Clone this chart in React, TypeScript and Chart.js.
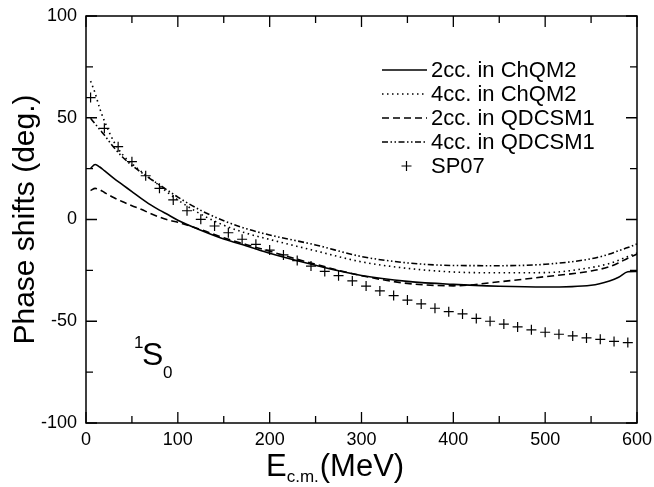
import React, { useEffect, useRef } from "react";
import { Chart, registerables } from "chart.js";

Chart.register(...registerables);

const energies = [5, 10, 15, 20, 30, 40, 50, 60, 70, 80, 90, 100, 125, 150, 175, 200, 250, 300, 350, 400, 450, 500, 550, 570, 580, 590, 600];
const cc2ChQM2 = [25.2, 27, 25.8, 24, 20.3, 17, 13.7, 10.4, 7.3, 4.6, 2.2, -0.4, -5.3, -9.6, -13, -16.6, -22.5, -27.5, -30.4, -31.9, -32.8, -33.2, -32.3, -30.2, -28.4, -25.7, -25.5];
const cc4ChQM2 = [68, 62, 54.5, 48.5, 38.5, 31.8, 27.4, 23.6, 20.2, 16.6, 12.9, 9.6, 2.6, -2.8, -6.8, -9.8, -15.4, -20.8, -24, -25.8, -26.2, -26.1, -23.6, -21.6, -20, -18.2, -16.5];
const cc2QDCSM1 = [14.2, 15.3, 14.6, 13.3, 10.8, 8.7, 6.8, 5, 3, 1.2, -0.3, -1.4, -5, -9, -12.4, -15.6, -22, -27.6, -31.4, -32.6, -30.6, -28.1, -25.3, -23.2, -21.3, -19, -17];
const cc4QDCSM1 = [49.7, 47, 44.2, 41.5, 35.6, 30.6, 26.6, 23.2, 20, 17, 14, 11, 4.5, -0.6, -4.6, -7.6, -12.5, -18.2, -21.3, -22.6, -22.7, -22, -19.3, -17, -15.3, -13.8, -12];

const sp07Energies = [5, 20, 35, 50, 65, 80, 95, 110, 125, 140, 155, 170, 185, 200, 215, 230, 245, 260, 275, 290, 305, 320, 335, 350, 365, 380, 395, 410, 425, 440, 455, 470, 485, 500, 515, 530, 545, 560, 575, 590];
const sp07Values = [59.9, 44.8, 35.8, 28.4, 21.5, 15.3, 9.6, 4.3, 0.1, -3.2, -6.5, -9.7, -12.2, -15.0, -17.4, -20.2, -22.9, -25.5, -27.6, -30.2, -32.7, -35.1, -37.4, -39.6, -41.5, -43.6, -45.3, -46.4, -48.6, -50.0, -51.4, -52.8, -54.2, -55.4, -56.4, -57.2, -58.2, -58.9, -59.9, -60.5];

const seriesLabels = ["2cc. in ChQM2", "4cc. in ChQM2", "2cc. in QDCSM1", "4cc. in QDCSM1", "SP07"];
const xTicks = [0, 100, 200, 300, 400, 500, 600];
const yTicks = [-100, -50, 0, 50, 100];

const FONT = '"Liberation Sans", Arial, sans-serif';
const dashes: number[][] = [[], [1.5, 3.5], [7, 4], [6, 2.5, 1.5, 2.5, 1.5, 2.5]];

const toXY = (xs: number[], ys: number[]) => xs.map((x, i) => ({ x, y: ys[i] }));

const decorPlugin = {
  id: "decor",
  afterDraw(chart: any) {
    const ctx = chart.ctx;
    const { left, right, top, bottom } = chart.chartArea;
    const xs = chart.scales.x;
    const ys = chart.scales.y;
    ctx.save();
    ctx.strokeStyle = "#000";
    ctx.fillStyle = "#000";
    ctx.lineWidth = 1.5;
    ctx.setLineDash([]);
    ctx.strokeRect(left, top, right - left, bottom - top);
    ctx.lineWidth = 1.3;
    for (let v = 0; v <= 600; v += 50) {
      const px = xs.getPixelForValue(v);
      const len = v % 100 === 0 ? 11 : 7;
      ctx.beginPath();
      ctx.moveTo(px, bottom);
      ctx.lineTo(px, bottom - len);
      ctx.moveTo(px, top);
      ctx.lineTo(px, top + len);
      ctx.stroke();
    }
    for (let v = -100; v <= 100; v += 25) {
      const py = ys.getPixelForValue(v);
      const len = v % 50 === 0 ? 11 : 7;
      ctx.beginPath();
      ctx.moveTo(left, py);
      ctx.lineTo(left + len, py);
      ctx.moveTo(right, py);
      ctx.lineTo(right - len, py);
      ctx.stroke();
    }
    // legend
    const rows = [70, 94, 118, 142, 166];
    ctx.font = `22px ${FONT}`;
    ctx.textBaseline = "middle";
    ctx.textAlign = "left";
    for (let i = 0; i < 4; i++) {
      ctx.lineWidth = 1.6;
      ctx.setLineDash(dashes[i]);
      ctx.beginPath();
      ctx.moveTo(382, rows[i]);
      ctx.lineTo(427, rows[i]);
      ctx.stroke();
      ctx.setLineDash([]);
      ctx.fillText(seriesLabels[i], 431, rows[i] + 1);
    }
    ctx.lineWidth = 1.2;
    ctx.beginPath();
    ctx.moveTo(401.5, rows[4]);
    ctx.lineTo(411.5, rows[4]);
    ctx.moveTo(406.5, rows[4] - 5);
    ctx.lineTo(406.5, rows[4] + 5);
    ctx.stroke();
    ctx.fillText(seriesLabels[4], 431, rows[4] + 1);
    // 1S0
    ctx.textBaseline = "alphabetic";
    ctx.font = `17px ${FONT}`;
    ctx.fillText("1", 134, 348);
    ctx.font = `32px ${FONT}`;
    ctx.fillText("S", 142, 365);
    ctx.font = `17px ${FONT}`;
    ctx.fillText("0", 163, 378);
    // x title
    const big = `31px ${FONT}`;
    const small = `17px ${FONT}`;
    ctx.font = big;
    const wE = ctx.measureText("E").width;
    ctx.font = small;
    const wS = ctx.measureText("c.m.").width;
    const x0 = 266;
    const base = 476;
    ctx.font = big;
    ctx.fillText("E", x0, base);
    ctx.font = small;
    ctx.fillText("c.m.", x0 + wE, base + 6);
    ctx.font = big;
    ctx.fillText("(MeV)", x0 + wE + wS + 1, base);
    // y title
    ctx.translate(34, (top + bottom) / 2);
    ctx.rotate(-Math.PI / 2);
    ctx.textAlign = "center";
    ctx.font = `30px ${FONT}`;
    ctx.fillText("Phase shifts (deg.)", 0, 0);
    ctx.restore();
  },
};

export default function App() {
  const ref = useRef<HTMLCanvasElement | null>(null);
  useEffect(() => {
    if (!ref.current) return;
    const lineSets = [cc2ChQM2, cc4ChQM2, cc2QDCSM1, cc4QDCSM1].map((vals, i) => ({
      type: "line" as const,
      label: seriesLabels[i],
      data: toXY(energies, vals),
      borderColor: "#000",
      borderWidth: 1.6,
      borderDash: dashes[i],
      pointRadius: 0,
      fill: false,
      cubicInterpolationMode: "monotone" as const,
    }));
    const chart = new Chart(ref.current, {
      type: "line",
      data: {
        datasets: [
          ...lineSets,
          {
            type: "scatter" as const,
            label: seriesLabels[4],
            data: toXY(sp07Energies, sp07Values),
            pointStyle: "cross",
            pointRadius: 5,
            borderColor: "#000",
            backgroundColor: "#000",
            pointBorderWidth: 1.2,
            showLine: false,
          } as any,
        ],
      },
      options: {
        animation: false,
        responsive: false,
        maintainAspectRatio: false,
        devicePixelRatio: 1,
        layout: { padding: { top: 16, right: 17, left: 0, bottom: 0 } },
        plugins: { legend: { display: false }, tooltip: { enabled: false }, title: { display: false } },
        scales: {
          x: {
            type: "linear",
            min: 0,
            max: 600,
            afterBuildTicks: (s: any) => { s.ticks = xTicks.map((v) => ({ value: v })); },
            afterFit: (s: any) => { s.height = 64; s.paddingLeft = 0; s.paddingRight = 0; },
            grid: { display: false, drawTicks: false },
            border: { display: false },
            ticks: { color: "#000", font: { family: FONT, size: 18 }, padding: 6, maxRotation: 0 },
          },
          y: {
            type: "linear",
            min: -100,
            max: 100,
            afterBuildTicks: (s: any) => { s.ticks = yTicks.map((v) => ({ value: v })); },
            afterFit: (s: any) => { s.width = 86; s.paddingTop = 0; s.paddingBottom = 0; },
            grid: { display: false, drawTicks: false },
            border: { display: false },
            ticks: { color: "#000", font: { family: FONT, size: 18 }, padding: 9 },
          },
        },
      },
      plugins: [decorPlugin],
    });
    return () => chart.destroy();
  }, []);
  return (
    <div style={{ position: "fixed", left: 0, top: 0, width: 654, height: 487, background: "#fff" }}>
      <canvas ref={ref} width={654} height={487} style={{ width: 654, height: 487, display: "block" }} />
    </div>
  );
}
